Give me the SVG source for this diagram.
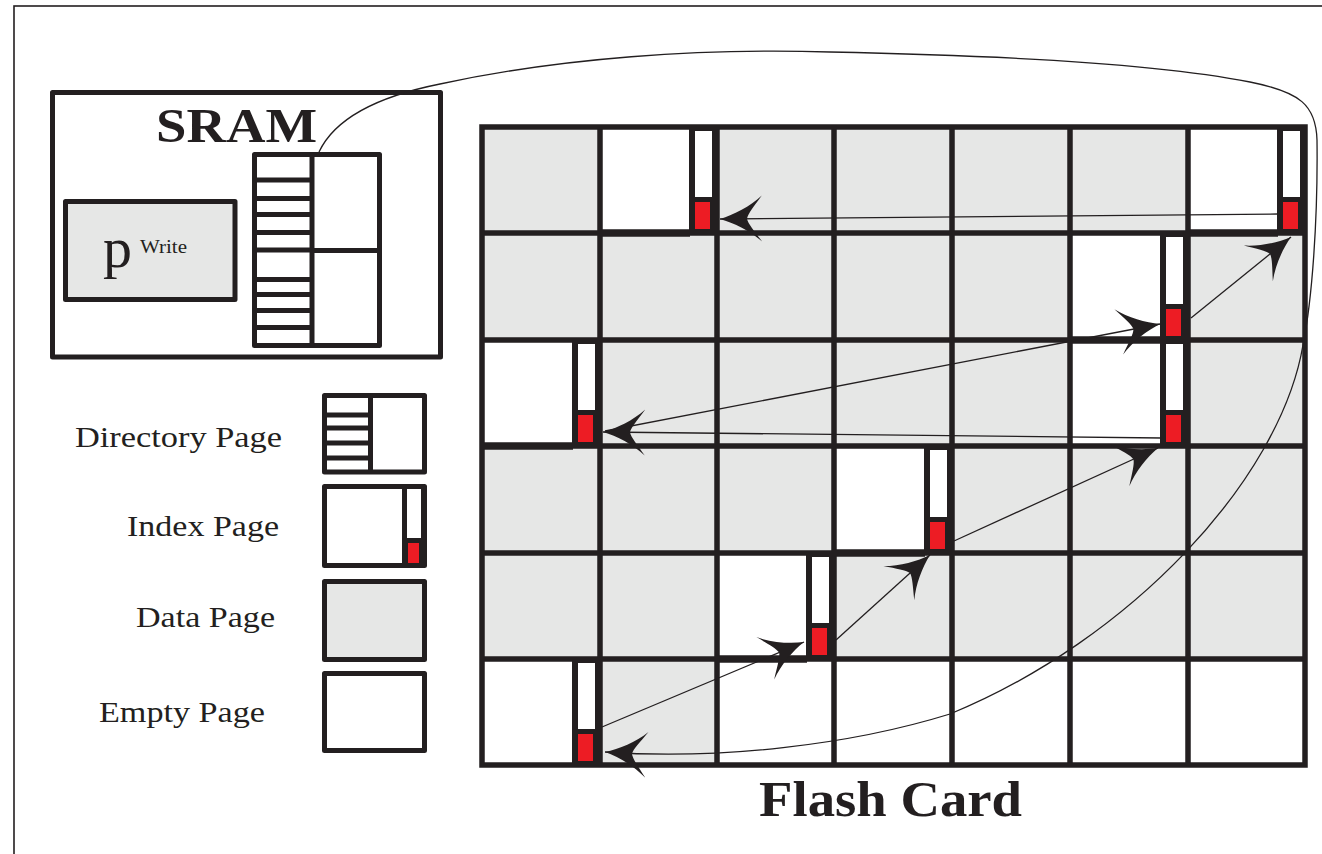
<svg xmlns="http://www.w3.org/2000/svg" width="1322" height="854" viewBox="0 0 1322 854">
<style>
.frame{fill:none;stroke:#231f20;stroke-width:1.6}
.box{fill:#fff;stroke:#231f20;stroke-width:5;stroke-linejoin:round}
.gbox{fill:#e6e7e6;stroke:#231f20;stroke-width:5;stroke-linejoin:round}
.gray{fill:#e6e7e6}
.white{fill:#fff}
.blk{fill:#231f20}
.red{fill:#ed1c24}
.gl{stroke:#231f20;stroke-width:5.5;fill:none}
.thick{stroke:#231f20;stroke-width:7.5}
.stripe{stroke:#231f20;stroke-width:5}
.conn{fill:none;stroke:#231f20;stroke-width:1.3}
.lbl{font-family:"Liberation Serif","Times New Roman",serif;fill:#231f20}
.title{font-family:"Liberation Serif","Times New Roman",serif;font-weight:bold;fill:#231f20}
</style>
<defs>
<marker id="dart" viewBox="-46 -26 50 52" markerWidth="50" markerHeight="52" refX="0" refY="0" orient="auto" markerUnits="userSpaceOnUse">
<path d="M0,0 C-14,-4 -30,-12 -42,-23 C-34,-12 -28,-5 -27,0 C-28,5 -34,12 -42,23 C-30,12 -14,4 0,0 Z" fill="#231f20"/>
</marker>
</defs>

<rect id="frame" class="frame" x="14" y="6" width="1330" height="870"/>

<g id="sram">
<rect class="box" x="52.5" y="92.5" width="388" height="264.5"/>
<text class="title" x="156" y="142" font-size="49" textLength="161" lengthAdjust="spacingAndGlyphs">SRAM</text>
</g>
<g id="pwrite">
<rect class="gbox" x="65.5" y="201.5" width="169.5" height="98"/>
<text class="lbl" x="103" y="267" font-size="58">p</text>
<text class="lbl" x="140" y="253" font-size="18" textLength="47" lengthAdjust="spacingAndGlyphs">Write</text>
</g>
<g id="sram-directory">
<rect class="box" x="254.5" y="154.5" width="125" height="191"/>
<line class="stripe" x1="312" y1="154" x2="312" y2="346"/>
<line class="stripe" x1="312" y1="250.5" x2="380" y2="250.5"/>
<line class="stripe" x1="255" y1="180" x2="312" y2="180"/>
<line class="stripe" x1="255" y1="198.5" x2="312" y2="198.5"/>
<line class="stripe" x1="255" y1="214.5" x2="312" y2="214.5"/>
<line class="stripe" x1="255" y1="232.5" x2="312" y2="232.5"/>
<line class="stripe" x1="255" y1="250" x2="312" y2="250" stroke-width="10"/>
<line class="stripe" x1="255" y1="279.5" x2="312" y2="279.5"/>
<line class="stripe" x1="255" y1="294.5" x2="312" y2="294.5"/>
<line class="stripe" x1="255" y1="310.5" x2="312" y2="310.5"/>
<line class="stripe" x1="255" y1="327.5" x2="312" y2="327.5"/>
</g>

<g id="legend-directory">
<text class="lbl" x="75" y="447" font-size="30" textLength="207" lengthAdjust="spacingAndGlyphs">Directory Page</text>
<rect class="box" x="324.5" y="395.5" width="100" height="76.5"/>
<line class="stripe" x1="370.5" y1="395" x2="370.5" y2="472"/>
<line class="stripe" x1="325" y1="415" x2="370" y2="415"/>
<line class="stripe" x1="325" y1="428" x2="370" y2="428"/>
<line class="stripe" x1="325" y1="443" x2="370" y2="443"/>
<line class="stripe" x1="325" y1="458" x2="370" y2="458"/>
</g>
<g id="legend-index">
<text class="lbl" x="127" y="536" font-size="30" textLength="152" lengthAdjust="spacingAndGlyphs">Index Page</text>
<rect class="box" x="324.5" y="486.5" width="100" height="79"/>
<rect class="blk" x="402" y="487" width="22" height="78"/>
<rect class="white" x="407" y="489" width="14" height="49"/>
<rect class="red" x="408" y="543" width="11" height="20"/>
</g>
<g id="legend-data">
<text class="lbl" x="136" y="627" font-size="30" textLength="139" lengthAdjust="spacingAndGlyphs">Data Page</text>
<rect class="gbox" x="324.5" y="581.5" width="100" height="78"/>
</g>
<g id="legend-empty">
<text class="lbl" x="99" y="722" font-size="30" textLength="166" lengthAdjust="spacingAndGlyphs">Empty Page</text>
<rect class="box" x="324.5" y="673.5" width="100" height="77"/>
</g>

<g id="flash-card">
<rect class="gray" x="482" y="127" width="823" height="638"/>
<g id="empty-pages">
<rect class="white" x="600" y="127" width="117" height="106"/>
<rect class="white" x="1188" y="127" width="117" height="106"/>
<rect class="white" x="1070" y="233" width="118" height="107"/>
<rect class="white" x="482" y="340" width="118" height="106"/>
<rect class="white" x="1070" y="340" width="118" height="106"/>
<rect class="white" x="834" y="446" width="118" height="107"/>
<rect class="white" x="717" y="553" width="117" height="106"/>
<rect class="white" x="482" y="659" width="118" height="106"/>
<rect class="white" x="717" y="659" width="588" height="106"/>
</g>
<path class="gl" d="M600,127V765M717,127V765M834,127V765M952,127V765M1070,127V765M1188,127V765M482,233H1305M482,340H1305M482,446H1305M482,553H1305M482,659H1305"/>
<rect class="gl" x="482" y="127" width="823" height="638" stroke-width="6"/>
<g id="idx-r0c1"><line class="thick" x1="600" y1="233" x2="690" y2="233"/><rect class="blk" x="689" y="127" width="28" height="106"/><rect class="white" x="695" y="131" width="17" height="66"/><rect class="red" x="695" y="202" width="15" height="27"/></g>
<g id="idx-r0c6"><line class="thick" x1="1188" y1="233" x2="1278" y2="233"/><rect class="blk" x="1277" y="127" width="28" height="106"/><rect class="white" x="1283" y="131" width="17" height="66"/><rect class="red" x="1283" y="202" width="15" height="27"/></g>
<g id="idx-r1c5"><line class="thick" x1="1070" y1="340" x2="1161" y2="340"/><rect class="blk" x="1160" y="233" width="28" height="107"/><rect class="white" x="1166" y="237" width="17" height="67"/><rect class="red" x="1166" y="309" width="15" height="27"/></g>
<g id="idx-r2c0"><line class="thick" x1="482" y1="446" x2="573" y2="446"/><rect class="blk" x="572" y="340" width="28" height="106"/><rect class="white" x="578" y="344" width="17" height="66"/><rect class="red" x="578" y="415" width="15" height="27"/></g>
<g id="idx-r2c5"><rect class="blk" x="1160" y="340" width="28" height="106"/><rect class="white" x="1166" y="344" width="17" height="66"/><rect class="red" x="1166" y="415" width="15" height="27"/></g>
<g id="idx-r3c3"><line class="thick" x1="834" y1="553" x2="925" y2="553"/><rect class="blk" x="924" y="446" width="28" height="107"/><rect class="white" x="930" y="450" width="17" height="67"/><rect class="red" x="930" y="522" width="15" height="27"/></g>
<g id="idx-r4c2"><line class="thick" x1="717" y1="659" x2="807" y2="659"/><rect class="blk" x="806" y="553" width="28" height="106"/><rect class="white" x="812" y="557" width="17" height="66"/><rect class="red" x="812" y="628" width="15" height="27"/></g>
<g id="idx-r5c0"><rect class="blk" x="572" y="659" width="28" height="106"/><rect class="white" x="578" y="663" width="17" height="66"/><rect class="red" x="578" y="734" width="15" height="27"/></g>
<text class="title" x="759" y="816" font-size="50" textLength="263" lengthAdjust="spacingAndGlyphs">Flash Card</text>
</g>

<g id="connectors">
<path class="conn" marker-end="url(#dart)" d="M319,152 C335,118 380,96 440,84 C560,58 700,48 830,52 C980,55 1150,62 1250,82 C1300,92 1316,105 1317,140 C1318,220 1312,300 1303,345 C1280,480 1130,640 950,714 C850,745 720,760 605,752"/>
<path class="conn" marker-end="url(#dart)" d="M602,727 L804,642"/>
<path class="conn" marker-end="url(#dart)" d="M836,640 L930,555"/>
<path class="conn" marker-end="url(#dart)" d="M954,541 L1158,448"/>
<path class="conn" marker-end="url(#dart)" d="M1162,438 L603,432"/>
<path class="conn" marker-end="url(#dart)" d="M605,431 L1160,324"/>
<path class="conn" marker-end="url(#dart)" d="M1191,318 L1291,237"/>
<path class="conn" marker-end="url(#dart)" d="M1278,214 L720,219"/>
</g>
</svg>
